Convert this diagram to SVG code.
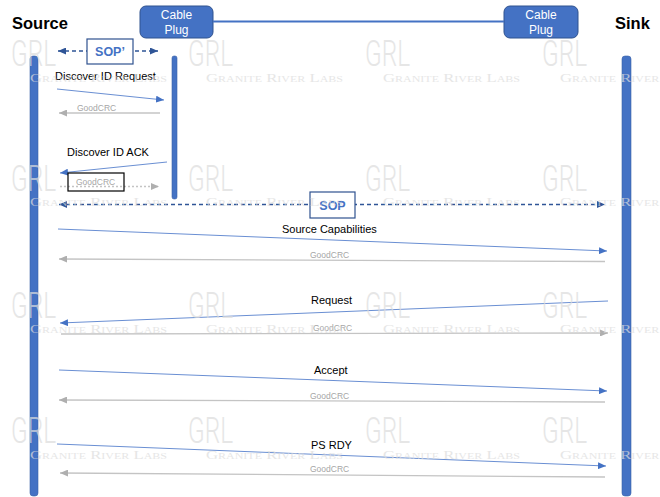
<svg xmlns="http://www.w3.org/2000/svg" width="660" height="497" viewBox="0 0 660 497">
<style>
.lbl{font-family:"Liberation Sans",Arial,sans-serif;font-size:11px;fill:#000}
.hdr{font-family:"Liberation Sans",Arial,sans-serif;font-size:16.5px;font-weight:bold;fill:#000}
.crc{font-family:"Liberation Sans",Arial,sans-serif;font-size:8.5px;fill:#a6a6a6}
.plugtxt{font-family:"Liberation Sans",Arial,sans-serif;font-size:12px;fill:#fff;text-anchor:middle}
.sop{font-family:"Liberation Sans",Arial,sans-serif;font-size:12.5px;font-weight:bold;fill:#4472C4;text-anchor:middle}
.bar{fill:#4472C4;stroke:#3A62A8;stroke-width:0.6}
.msg{stroke:#6A8FD3;stroke-width:1;fill:none;marker-end:url(#ab)}
.ack{stroke:#C4C4C4;stroke-width:1.3;fill:none;marker-end:url(#ag)}
.dash{stroke:#2F5597;stroke-width:1.3;stroke-dasharray:4 3;fill:none;marker-end:url(#ad);marker-start:url(#ad)}
.wm1{font-family:Roboto,"Liberation Sans",Arial,sans-serif;font-weight:300;font-size:36px;fill:#dcdcdc;opacity:0.7}
.wm2{font-family:"Liberation Serif","Times New Roman",serif;font-size:12.5px;font-variant:small-caps;fill:#dcdcdc;opacity:0.7}
</style>
<defs>
<marker id="ab" markerUnits="userSpaceOnUse" markerWidth="8" markerHeight="7" refX="8" refY="3.5" orient="auto"><path d="M0,0 L8,3.5 L0,7 z" fill="#4472C4"/></marker>
<marker id="ag" markerUnits="userSpaceOnUse" markerWidth="8" markerHeight="7" refX="8" refY="3.5" orient="auto"><path d="M0,0 L8,3.5 L0,7 z" fill="#AFAFAF"/></marker>
<marker id="ad" markerUnits="userSpaceOnUse" markerWidth="8" markerHeight="7" refX="8" refY="3.5" orient="auto-start-reverse"><path d="M0,0 L8,3.5 L0,7 z" fill="#2F5597"/></marker>
</defs>
<rect width="660" height="497" fill="#fff"/>

<g id="source">
<text class="hdr" x="12" y="29">Source</text>
<rect class="bar" x="30" y="56" width="8" height="440" rx="3"/>
</g>
<g id="sink">
<text class="hdr" x="615" y="29">Sink</text>
<rect class="bar" x="622" y="56" width="9" height="440" rx="3"/>
</g>
<g id="cable-plug-left">
<rect x="140" y="6" width="73" height="32" rx="6" fill="#4472C4" stroke="#2F528F" stroke-width="1"/>
<text class="plugtxt" x="176.5" y="18.5">Cable</text>
<text class="plugtxt" x="176.5" y="34">Plug</text>
<rect class="bar" x="172" y="56" width="5" height="143" rx="2"/>
</g>
<g id="cable-plug-right">
<rect x="504" y="6" width="74" height="32" rx="6" fill="#4472C4" stroke="#2F528F" stroke-width="1"/>
<text class="plugtxt" x="541" y="18.5">Cable</text>
<text class="plugtxt" x="541" y="34">Plug</text>
</g>

<g id="connectors">
<line x1="213" y1="21.5" x2="504" y2="21.5" stroke="#4472C4" stroke-width="2"/>
<line class="dash" x1="58" y1="51" x2="158" y2="51"/>
<line class="msg" x1="57" y1="89" x2="164" y2="100"/>
<line class="ack" x1="160" y1="113" x2="59" y2="113"/>
<line class="msg" x1="167" y1="162" x2="60" y2="173"/>
<line class="ack" x1="60" y1="186.5" x2="159" y2="186.5" stroke-dasharray="2 2"/>
<line class="dash" x1="59" y1="204.5" x2="605" y2="204.5"/>
<line class="msg" x1="58" y1="229" x2="607" y2="251"/>
<line class="ack" x1="605" y1="261.5" x2="59" y2="259"/>
<line class="msg" x1="608" y1="301" x2="60" y2="323"/>
<line class="ack" x1="61" y1="334" x2="608" y2="333"/>
<line class="msg" x1="59" y1="370" x2="607" y2="391"/>
<line class="ack" x1="605" y1="402" x2="59" y2="400"/>
<line class="msg" x1="57" y1="444" x2="606" y2="466"/>
<line class="ack" x1="605" y1="477" x2="60" y2="473"/>
</g>

<g id="sop-prime">
<rect x="87" y="39" width="46" height="25" fill="#fff" stroke="#2F528F" stroke-width="1.2"/>
<text class="sop" x="110" y="56">SOP’</text>
</g>
<g id="sop">
<rect x="310" y="192" width="45" height="26" fill="#fff" stroke="#2F528F" stroke-width="1.2"/>
<text class="sop" x="332.5" y="209.5">SOP</text>
</g>

<g id="labels">
<text class="lbl" x="55" y="80">Discover ID Request</text>
<text class="crc" x="77" y="111">GoodCRC</text>
<text class="lbl" x="67" y="155.5">Discover ID ACK</text>
<rect x="68" y="173" width="56" height="18" fill="none" stroke="#000" stroke-width="1.2"/>
<text class="crc" x="76" y="185">GoodCRC</text>
<text class="lbl" x="282" y="233">Source Capabilities</text>
<text class="crc" x="310" y="258">GoodCRC</text>
<text class="lbl" x="311" y="304">Request</text>
<text class="crc" x="313" y="331">GoodCRC</text>
<text class="lbl" x="314" y="374">Accept</text>
<text class="crc" x="310" y="399">GoodCRC</text>
<text class="lbl" x="311" y="449">PS RDY</text>
<text class="crc" x="310" y="472">GoodCRC</text>
</g>

<g id="watermark">
<text class="wm1" x="11" y="66" textLength="45" lengthAdjust="spacingAndGlyphs">GRL</text>
<text class="wm1" x="188" y="66" textLength="45" lengthAdjust="spacingAndGlyphs">GRL</text>
<text class="wm1" x="365" y="66" textLength="45" lengthAdjust="spacingAndGlyphs">GRL</text>
<text class="wm1" x="542" y="66" textLength="45" lengthAdjust="spacingAndGlyphs">GRL</text>
<text class="wm2" x="30" y="82" textLength="137" lengthAdjust="spacingAndGlyphs">Granite River Labs</text>
<text class="wm2" x="206" y="82" textLength="137" lengthAdjust="spacingAndGlyphs">Granite River Labs</text>
<text class="wm2" x="383" y="82" textLength="137" lengthAdjust="spacingAndGlyphs">Granite River Labs</text>
<text class="wm2" x="560" y="82" textLength="137" lengthAdjust="spacingAndGlyphs">Granite River Labs</text>

<text class="wm1" x="11" y="191" textLength="45" lengthAdjust="spacingAndGlyphs">GRL</text>
<text class="wm1" x="188" y="191" textLength="45" lengthAdjust="spacingAndGlyphs">GRL</text>
<text class="wm1" x="365" y="191" textLength="45" lengthAdjust="spacingAndGlyphs">GRL</text>
<text class="wm1" x="542" y="191" textLength="45" lengthAdjust="spacingAndGlyphs">GRL</text>
<text class="wm2" x="30" y="206" textLength="137" lengthAdjust="spacingAndGlyphs">Granite River Labs</text>
<text class="wm2" x="206" y="206" textLength="137" lengthAdjust="spacingAndGlyphs">Granite River Labs</text>
<text class="wm2" x="383" y="206" textLength="137" lengthAdjust="spacingAndGlyphs">Granite River Labs</text>
<text class="wm2" x="560" y="206" textLength="137" lengthAdjust="spacingAndGlyphs">Granite River Labs</text>

<text class="wm1" x="11" y="318" textLength="45" lengthAdjust="spacingAndGlyphs">GRL</text>
<text class="wm1" x="188" y="318" textLength="45" lengthAdjust="spacingAndGlyphs">GRL</text>
<text class="wm1" x="365" y="318" textLength="45" lengthAdjust="spacingAndGlyphs">GRL</text>
<text class="wm1" x="542" y="318" textLength="45" lengthAdjust="spacingAndGlyphs">GRL</text>
<text class="wm2" x="30" y="333" textLength="137" lengthAdjust="spacingAndGlyphs">Granite River Labs</text>
<text class="wm2" x="206" y="333" textLength="137" lengthAdjust="spacingAndGlyphs">Granite River Labs</text>
<text class="wm2" x="383" y="333" textLength="137" lengthAdjust="spacingAndGlyphs">Granite River Labs</text>
<text class="wm2" x="560" y="333" textLength="137" lengthAdjust="spacingAndGlyphs">Granite River Labs</text>

<text class="wm1" x="11" y="443" textLength="45" lengthAdjust="spacingAndGlyphs">GRL</text>
<text class="wm1" x="188" y="443" textLength="45" lengthAdjust="spacingAndGlyphs">GRL</text>
<text class="wm1" x="365" y="443" textLength="45" lengthAdjust="spacingAndGlyphs">GRL</text>
<text class="wm1" x="542" y="443" textLength="45" lengthAdjust="spacingAndGlyphs">GRL</text>
<text class="wm2" x="30" y="459" textLength="137" lengthAdjust="spacingAndGlyphs">Granite River Labs</text>
<text class="wm2" x="206" y="459" textLength="137" lengthAdjust="spacingAndGlyphs">Granite River Labs</text>
<text class="wm2" x="383" y="459" textLength="137" lengthAdjust="spacingAndGlyphs">Granite River Labs</text>
<text class="wm2" x="560" y="459" textLength="137" lengthAdjust="spacingAndGlyphs">Granite River Labs</text>
</g>
</svg>
